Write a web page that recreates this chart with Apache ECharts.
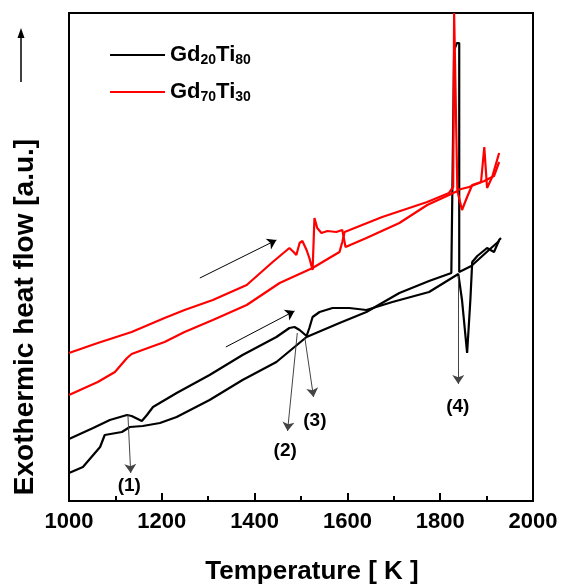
<!DOCTYPE html>
<html><head><meta charset="utf-8">
<script src="https://cdn.jsdelivr.net/npm/echarts@6/dist/echarts.min.js"></script>
<style>html,body{margin:0;padding:0;background:#fff}#c{width:561px;height:586px}</style>
</head><body><div id="c"></div>
<script>
const FONT = '"Liberation Sans", Arial, sans-serif';

// Temperature ticks
const xMin = 1000, xMax = 2000, xStep = 200;

// Gd20Ti80 heating trace (T in K, signal a.u.)
const gd20HeatT = [1000,1052,1088,1125,1135,1157,1168,1181,1232,1303,1374,1447,1475,1486,1497,1512,1518,1525,1540,1568,1604,1641,1697,1776,1839,1847,1858,1865,1869,1880,1901,1916,1927,1931];
const gd20HeatY = [62,73,81,86,85,80,86,94,108,126,146,164,173,174,171,165,173,184,189,193,193,191,199,209,227,201,148,201,239,245,253,249,261,263];
// Gd20Ti80 cooling trace
const gd20CoolT = [1000,1030,1067,1077,1114,1131,1159,1196,1232,1303,1374,1447,1512,1583,1641,1712,1776,1824,1830,1836,1841,1841,1867,1905,1927];
const gd20CoolY = [28,34,54,66,69,74,75,78,84,101,121,139,164,178,189,208,220,228,451,458,458,229,235,251,260];
// Gd70Ti30 heating trace
const gd70HeatT = [1000,1062,1135,1206,1249,1310,1383,1439,1475,1484,1490,1497,1503,1512,1518,1525,1529,1535,1544,1557,1576,1589,1596,1641,1712,1772,1819,1837,1847,1858,1869,1888,1895,1901,1912,1927];
const gd70HeatY = [148,158,169,183,191,201,216,239,253,249,246,258,260,251,243,231,283,273,268,270,269,271,254,263,278,296,306,310,291,304,316,319,354,313,324,348];
// Gd70Ti30 cooling trace
const gd70CoolT = [1000,1062,1099,1125,1135,1170,1206,1249,1310,1383,1454,1525,1561,1583,1589,1594,1675,1772,1819,1828,1830,1834,1837,1862,1895,1916,1927];
const gd70CoolY = [106,119,129,143,147,153,159,169,181,196,218,233,243,249,259,269,284,299,308,314,488,488,311,314,320,325,339];

// Annotation labels and arrows
const annLabels = ['(1)','(2)','(3)','(4)'];
const annLabelT = [1131,1467,1531,1839];
const annLabelY = [15,50,80,94];
const annFromT = [1127,1492,1508,1839];
const annFromY = [86,168,164,225];
const annToT = [1133,1471,1527,1839];
const annToY = [28,70,104,117];
// heating direction arrows
const heatFromT = [1282,1338];
const heatFromY = [223,154];
const heatToT = [1447,1486];
const heatToY = [261,190];

const zip = (a,b) => a.map((v,i)=>[v,b[i]]);
const names = ['Gd20Ti80','Gd70Ti30'];
const rich = {
  m:{fontFamily:FONT,fontWeight:'bold',fontSize:22,lineHeight:24,color:'#000'},
  s:{fontFamily:FONT,fontWeight:'bold',fontSize:14,lineHeight:12,verticalAlign:'bottom',color:'#000'}
};
const fmtName = n => { const m = n.match(/^(Gd)(\d+)(Ti)(\d+)$/); return `{m|${m[1]}}{s|${m[2]}}{m|${m[3]}}{s|${m[4]}}`; };

const lineSeries = (name, color, T, Y) => ({
  name, type:'line', data: zip(T,Y), symbol:'none', smooth:false,
  lineStyle:{color, width:2.2}, itemStyle:{color}, z:3, silent:true
});

const mlData = [];
for (let i=0;i<annFromT.length;i++){
  const ls = {color:'#444', width:1, type:'solid'};
  mlData.push([{coord:[annFromT[i],annFromY[i]], lineStyle:ls},{coord:[annToT[i],annToY[i]], lineStyle:ls}]);
}
for (let i=0;i<heatFromT.length;i++){
  const ls = {color:'#000', width:1, type:'solid'};
  mlData.push([{coord:[heatFromT[i],heatFromY[i]], lineStyle:ls},{coord:[heatToT[i],heatToY[i]], lineStyle:ls}]);
}

const chart = echarts.init(document.getElementById('c'), null, {renderer:'canvas'});
chart.setOption({
  animation:false,
  backgroundColor:'#fff',
  grid:{left:69, right:28, top:13, bottom:85, show:true, borderColor:'#000', borderWidth:2, backgroundColor:'transparent', outerBoundsMode:'none', containLabel:false},
  legend:{
    orient:'vertical', left:105, top:39, itemWidth:55, itemHeight:2, itemGap:14, icon:'rect',
    data:names, formatter:fmtName, textStyle:{rich}, selectedMode:false
  },
  xAxis:{
    type:'value', min:xMin, max:xMax, interval:xStep,
    name:'Temperature [ K ]', nameLocation:'middle', nameGap:58,
    nameTextStyle:{fontFamily:FONT, fontWeight:'bold', fontSize:26, color:'#000', padding:[0,0,0,22]},
    axisLine:{show:true, lineStyle:{color:'#000', width:2}},
    axisTick:{show:true, inside:true, length:8, lineStyle:{color:'#000', width:2}},
    minorTick:{show:true, splitNumber:2, length:5, lineStyle:{color:'#000', width:2}},
    axisLabel:{fontFamily:FONT, fontWeight:'bold', fontSize:22, color:'#000', margin:10, formatter:v=>String(v)},
    splitLine:{show:false}
  },
  yAxis:{type:'value', min:0, max:488, show:false},
  graphic:[
    {type:'text', x:25, y:317, rotation:Math.PI/2,
     style:{text:'Exothermic heat flow [a.u.]', fontFamily:FONT, fontWeight:'bold', fontSize:28, fill:'#000', align:'center', verticalAlign:'middle'}},
    {type:'line', shape:{x1:21, y1:82, x2:21, y2:36}, style:{stroke:'#000', lineWidth:1.5}},
    {type:'polygon', shape:{points:[[21,28],[17.5,38],[24.5,38]]}, style:{fill:'#000'}}
  ],
  series:[
    lineSeries(names[0], '#000', gd20HeatT, gd20HeatY),
    lineSeries(names[0], '#000', gd20CoolT, gd20CoolY),
    lineSeries(names[1], '#ff0000', gd70HeatT, gd70HeatY),
    lineSeries(names[1], '#ff0000', gd70CoolT, gd70CoolY),
    {
      name:'ann', type:'scatter', symbolSize:1, itemStyle:{color:'#fff', opacity:1}, silent:true, z:5,
      data: annLabels.map((n,i)=>({name:n, value:[annLabelT[i], annLabelY[i]]})),
      label:{show:true, position:[0,0], align:'center', verticalAlign:'middle', formatter:p=>p.name, fontFamily:FONT, fontWeight:'bold', fontSize:19, color:'#000', opacity:1},
      markLine:{silent:true, symbol:['none','arrow'], symbolSize:[9,9], label:{show:false}, data:mlData, animation:false}
    }
  ]
});
</script></body></html>
